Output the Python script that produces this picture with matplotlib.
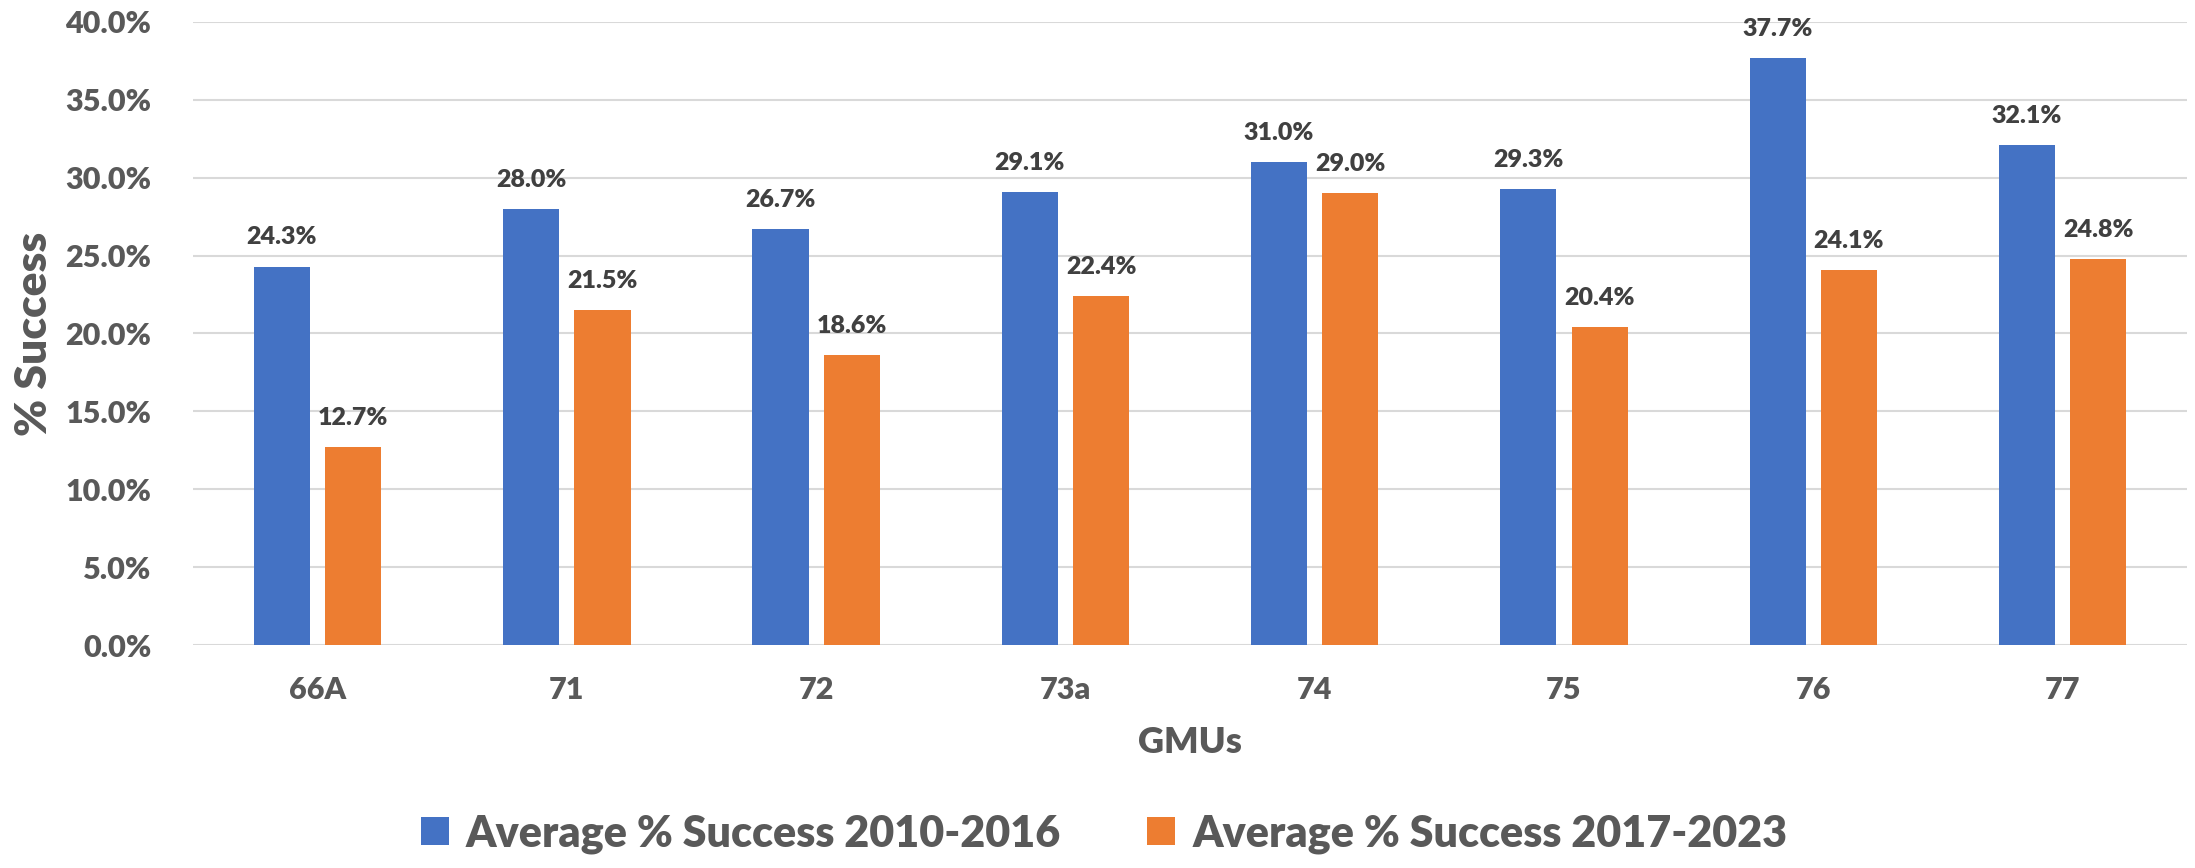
import numpy as np
import matplotlib
matplotlib.use('Agg')
import matplotlib.pyplot as plt
from matplotlib.ticker import FuncFormatter

# data
gmus = ['66A', '71', '72', '73a', '74', '75', '76', '77']
success_2010_2016 = [24.3, 28.0, 26.7, 29.1, 31.0, 29.3, 37.7, 32.1]
success_2017_2023 = [12.7, 21.5, 18.6, 22.4, 29.0, 20.4, 24.1, 24.8]
series_names = ['Average % Success 2010-2016', 'Average % Success 2017-2023']

plt.rcParams['font.family'] = ['Lato', 'DejaVu Sans']
plt.rcParams['font.weight'] = 'heavy'

blue = '#4472c4'
orange = '#ed7d31'
grey = '#595959'

fig = plt.figure(figsize=(21.95, 8.68), dpi=100)
ax = fig.add_axes([0.0879, 0.2569, 0.9085, 0.7178])

x = np.arange(len(gmus))
w = 0.225
off = 0.143

b1 = ax.bar(x - off, success_2010_2016, w, color=blue, label=series_names[0], zorder=3)
b2 = ax.bar(x + off, success_2017_2023, w, color=orange, label=series_names[1], zorder=3)

# value labels above each bar
for bars in (b1, b2):
    for rect in bars:
        h = rect.get_height()
        ax.annotate(f'{h:.1f}%', (rect.get_x() + rect.get_width() / 2, h),
                    xytext=(0, 13), textcoords='offset points',
                    ha='center', va='bottom', fontsize=18, fontweight='heavy',
                    color='#404040')

ax.set_xlim(-0.5, len(gmus) - 0.5)
ax.set_ylim(0, 40)
ax.set_yticks(np.arange(0, 41, 5))
ax.yaxis.set_major_formatter(FuncFormatter(lambda v, p: f'{v:.1f}%'))
ax.set_xticks(x)
ax.set_xticklabels(gmus)

ax.grid(axis='y', color='#d9d9d9', linewidth=1.5, zorder=0)
ax.tick_params(axis='both', length=0, labelsize=22, labelcolor=grey)
ax.tick_params(axis='y', pad=30)
ax.tick_params(axis='x', pad=22)
for s in ax.spines.values():
    s.set_visible(False)

ax.set_xlabel('GMUs', fontsize=26, fontweight='heavy', color=grey, labelpad=16)
ax.set_ylabel('% Success', fontsize=32, fontweight='heavy', color=grey, labelpad=8)

fig.legend(handles=[b1, b2], loc='center', bbox_to_anchor=(0.503, 0.04), ncol=2,
           frameon=False, fontsize=31, handlelength=0.65, handleheight=0.65,
           columnspacing=2.0, handletextpad=0.4, labelcolor=grey)

fig.savefig('out.png', dpi=100)
